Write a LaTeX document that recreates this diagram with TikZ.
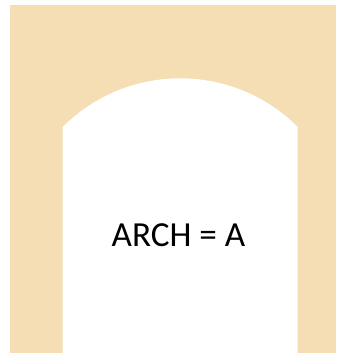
\documentclass[tikz,border=0pt]{standalone}
\usepackage{fontspec}
\setmainfont{Carlito}
\usepackage{tikz}
\usetikzlibrary{calc}
\definecolor{archbeige}{RGB}{245,222,179}

\begin{document}
\begin{tikzpicture}[x=1pt,y=1pt]
        \useasboundingbox (0,0) rectangle (338,356);
        \def\r{166.2}
        \coordinate (w1) at (10,3);
        \coordinate (w2) at (336,351);
        \coordinate (a1) at (62.7,3);
        \coordinate (a2) at (62.7,229);
        \coordinate (a3) at (297.7,229);
        \coordinate (a4) at (297.7,3);
        %Wall
        \fill[archbeige] (w1) rectangle (w2);
        %Opening
        \fill[white] (a1) -- (a2) arc[start angle=135, end angle=45, radius=\r] -- (a4) -- cycle;
        %Label
        \node[font=\fontsize{35.2}{40}\selectfont] (lbl) at (178.5,121) {ARCH = A};
      \end{tikzpicture}
\end{document}
